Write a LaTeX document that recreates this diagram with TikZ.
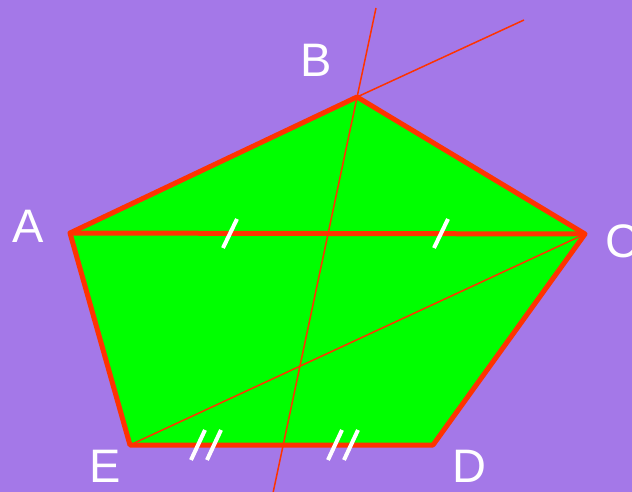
\documentclass[tikz,border=0pt]{standalone}
\usepackage{fontspec}
\setsansfont{Liberation Sans}
\usetikzlibrary{positioning}

\definecolor{bgpurple}{HTML}{A478E8}
\definecolor{polyred}{HTML}{FF3300}
\definecolor{polygreen}{HTML}{00FF00}

\begin{document}
\begin{tikzpicture}[x=1pt,y=-1pt]
\tikzset{
    side/.style={draw=polyred, line width=5pt, line join=round},
    guide/.style={draw=polyred, line width=1.5pt},
    tick/.style={draw=white, line width=4pt},
    vlabel/.style={text=white, inner sep=0pt, font=\sffamily\fontsize{47}{47}\selectfont}
}
\useasboundingbox (0,0) rectangle (632,492);
\fill[bgpurple] (0,0) rectangle (632,492);
\coordinate (A) at (70,233);
\coordinate (B) at (357,97);
\coordinate (C) at (585,234);
\coordinate (D) at (433,445);
\coordinate (E) at (130,445);
\coordinate (top) at (376,8);
\coordinate (bot) at (273,493);
\coordinate (far) at (524,20);
\fill[polygreen] (A) -- (B) -- (C) -- (D) -- (E) -- cycle;
\draw[guide] (E) -- (C);
\draw[guide] (top) -- (bot);
\draw[guide] (B) -- (far);
\draw[side] (A) -- (B) -- (C) -- (D) -- (E) -- cycle;
\draw[side] (A) -- (C);
% equal parts
\draw[tick] (223,248) -- ++(14,-29);
\draw[tick] (434,248) -- ++(14,-29);
\draw[tick] (191,460) -- ++(14,-30);
\draw[tick] (207,460) -- ++(14,-30);
\draw[tick] (328,460) -- ++(14,-30);
\draw[tick] (344,460) -- ++(14,-30);
\node[vlabel] (labA) at (28,226) {A};
\node[vlabel] (labB) at (316,60) {B};
\node[vlabel] (labC) at (622,241) {C};
\node[vlabel] (labD) at (469,466) {D};
\node[vlabel] (labE) at (105,466) {E};
\end{tikzpicture}
\end{document}
